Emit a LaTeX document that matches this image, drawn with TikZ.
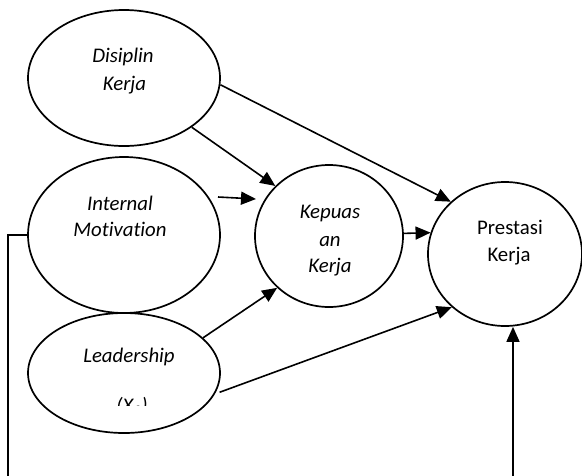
\documentclass[tikz,border=0pt]{standalone}
\usepackage{fontspec}
\setmainfont{Carlito}[Ligatures=NoCommon]
\usetikzlibrary{shapes.geometric,arrows.meta}
\begin{document}
\begin{tikzpicture}[x=1pt,y=-1pt,
  var/.style={draw,ellipse,line width=1.7pt,inner sep=0pt},
  lbl/.style={anchor=base,inner sep=0pt,font=\fontsize{20.8}{25}\selectfont\itshape},
  lblup/.style={anchor=base,inner sep=0pt,font=\fontsize{20.8}{25}\selectfont},
  arr/.style={line width=1.6pt,-{Triangle[length=15pt,width=13pt]}},
  ln/.style={line width=1.6pt}]
\useasboundingbox (0,0) rectangle (582,475);
% variables
\node[var,minimum width=192pt,minimum height=136pt] (D) at (124,78) {};
\node[var,minimum width=192pt,minimum height=156pt] (I) at (124,235) {};
\node[var,minimum width=192pt,minimum height=120pt] (L) at (124,373) {};
\node[var,minimum width=148pt,minimum height=142pt] (K) at (329,236) {};
\node[var,minimum width=154pt,minimum height=144pt] (P) at (505,254) {};
% texts
\node[lbl] (d1) at (123,62.7) {Disiplin};
\node[lbl] (d2) at (124.5,90) {Kerja};
\node[lbl] (i1) at (120,210) {Internal};
\node[lbl] (i2) at (120,236.7) {Motivation};
\node[lbl] (k1) at (330,218) {Kepuas};
\node[lbl] (k2) at (330,246) {an};
\node[lbl] (k3) at (330,272.7) {Kerja};
\node[lblup] (p1) at (510,234.3) {Prestasi};
\node[lblup] (p2) at (509,261.7) {Kerja};
\node[lbl] (l1) at (129,362.7) {Leadership};
\begin{scope}
\clip (95,390) rectangle (165,405.5);
\node[lbl] (l2) at (132,412) {(X\textsubscript{3})};
\end{scope}
% connectors
\coordinate (ia) at (218,197);
\coordinate (ib) at (256,199);
\coordinate (lb) at (8,476);
\coordinate (vb) at (513,476);
\draw[arr] (D.-36) -- (K.137);
\draw[arr] (D.-4) -- (P.136);
\draw[arr] (ia) -- (ib);
\draw[arr] (K.2) -- (P.164);
\draw[arr] (L.24) -- (K.-135);
\draw[arr,shorten <=5pt] (L.-13) -- (P.-135);
\draw[arr] (vb) -- (vb |- P.south);
\draw[ln] (I.west) -| (lb);
\end{tikzpicture}
\end{document}
